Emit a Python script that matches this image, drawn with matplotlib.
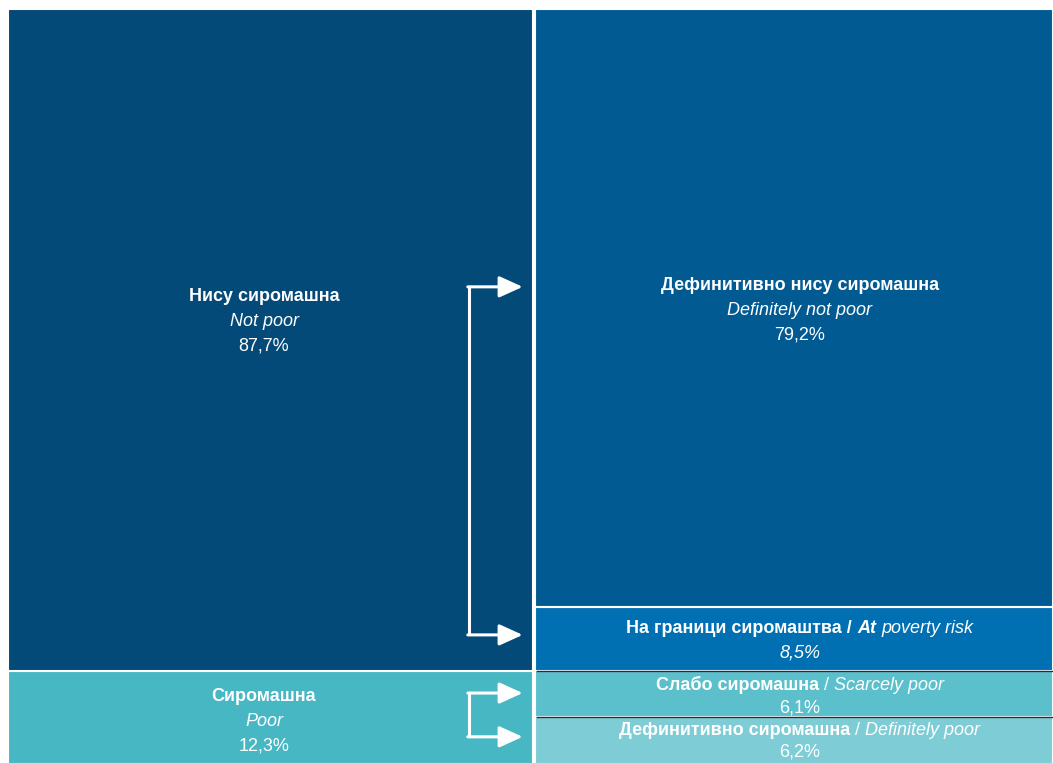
import numpy as np
import matplotlib
matplotlib.use("Agg")
import matplotlib.pyplot as plt
from matplotlib.offsetbox import TextArea, HPacker, VPacker, AnnotationBbox

# Podaci: levi stub (ukupno) i desni stub (detaljno), odozdo nagore
levi_nazivi = ["Сиромашна", "Нису сиромашна"]
levi_en = ["Poor", "Not poor"]
levi_vrednosti = [12.3, 87.7]
levi_boje = ["#46B7C3", "#044A79"]

desni_nazivi = ["Дефинитивно сиромашна", "Слабо сиромашна",
                "На граници сиромаштва", "Дефинитивно нису сиромашна"]
desni_en = ["Definitely poor", "Scarcely poor", "poverty risk", "Definitely not poor"]
desni_vrednosti = [6.2, 6.1, 8.5, 79.2]
desne_boje = ["#7ECCD6", "#5BC0CB", "#0070B2", "#025A92"]

FONT = ["Liberation Sans Narrow", "Liberation Sans", "DejaVu Sans"]
FS = 13
BELA = "white"


def pct(v):
    return f"{v:.1f}%".replace(".", ",")


def deo(s, weight="normal", style="normal"):
    return TextArea(s, textprops=dict(color=BELA, fontsize=FS, family=FONT,
                                      weight=weight, style=style))


def natpis(ax, x, y, redovi, sep=5.5):
    # redovi: lista redova, svaki red je lista delova (tekst, weight, style)
    linije = [HPacker(children=[deo(*p) for p in red], pad=0, sep=0, align="baseline")
              for red in redovi]
    box = VPacker(children=linije, pad=0, sep=sep, align="center")
    ab = AnnotationBbox(box, (x, y), frameon=False, box_alignment=(0.5, 0.5),
                        xycoords="data")
    ax.add_artist(ab)


fig = plt.figure(figsize=(10.53, 7.63), dpi=100)
ax = fig.add_axes([8 / 1053, -1 / 763, 1045 / 1053, 755 / 763])

# levi stub
dno = 0
levi_sredine = []
for v, b in zip(levi_vrednosti, levi_boje):
    ax.bar(0, v, bottom=dno, width=1.005, align="edge", color=b, edgecolor=BELA, linewidth=1.5)
    levi_sredine.append(dno + v / 2)
    dno += v

# desni stub
dno = 0
desne_sredine = []
for v, b in zip(desni_vrednosti, desne_boje):
    ax.bar(1.009, v, bottom=dno, width=0.991, align="edge", color=b, edgecolor=BELA, linewidth=1.5)
    desne_sredine.append(dno + v / 2)
    dno += v

# tanke tamne linije izmedju donjih segmenata desno
granice = np.cumsum(desni_vrednosti)[:2]
ax.hlines(granice, 1.011, 2, color="#13324d", linewidth=1)

ax.set_xlim(0, 2)
ax.set_ylim(0, 100)
ax.axis("off")

# natpisi - levi stub
natpis(ax, 0.49, levi_sredine[1] + 2.5, [
    [(levi_nazivi[1], "bold", "normal")],
    [(levi_en[1], "normal", "italic")],
    [(pct(levi_vrednosti[1]), "normal", "normal")],
])
natpis(ax, 0.49, levi_sredine[0] - 0.5, [
    [(levi_nazivi[0], "bold", "normal")],
    [(levi_en[0], "normal", "italic")],
    [(pct(levi_vrednosti[0]), "normal", "normal")],
])

# natpisi - desni stub
natpis(ax, 1.515, desne_sredine[3] - 0.3, [
    [(desni_nazivi[3], "bold", "normal")],
    [(desni_en[3], "normal", "italic")],
    [(pct(desni_vrednosti[3]), "normal", "normal")],
])
natpis(ax, 1.515, desne_sredine[2] - 0.2, [
    [(desni_nazivi[2] + " / ", "bold", "normal"), ("At ", "bold", "italic"),
     (desni_en[2], "normal", "italic")],
    [(pct(desni_vrednosti[2]), "normal", "italic")],
])
natpis(ax, 1.515, desne_sredine[1] - 0.3, [
    [(desni_nazivi[1], "bold", "normal"), (" / ", "normal", "normal"),
     (desni_en[1], "normal", "italic")],
    [(pct(desni_vrednosti[1]), "normal", "normal")],
], sep=4)
natpis(ax, 1.515, desne_sredine[0] - 0.1, [
    [(desni_nazivi[0], "bold", "normal"), (" / ", "normal", "normal"),
     (desni_en[0], "normal", "italic")],
    [(pct(desni_vrednosti[0]), "normal", "normal")],
], sep=3)

# strelice
strelica = dict(arrowstyle="-|>,head_length=1.1,head_width=0.5", color=BELA,
                lw=2.2, mutation_scale=13, shrinkA=0, shrinkB=0)
x0, x1 = 0.882, 0.985
for gore, dole in [(63.2, 17.1), (9.4, 3.6)]:
    ax.plot([x0, x0], [dole, gore], color=BELA, lw=2.2, solid_capstyle="butt")
    for yy in (gore, dole):
        ax.annotate("", xy=(x1, yy), xytext=(x0 - 0.002, yy), arrowprops=strelica)

fig.savefig("out.png", dpi=100)
